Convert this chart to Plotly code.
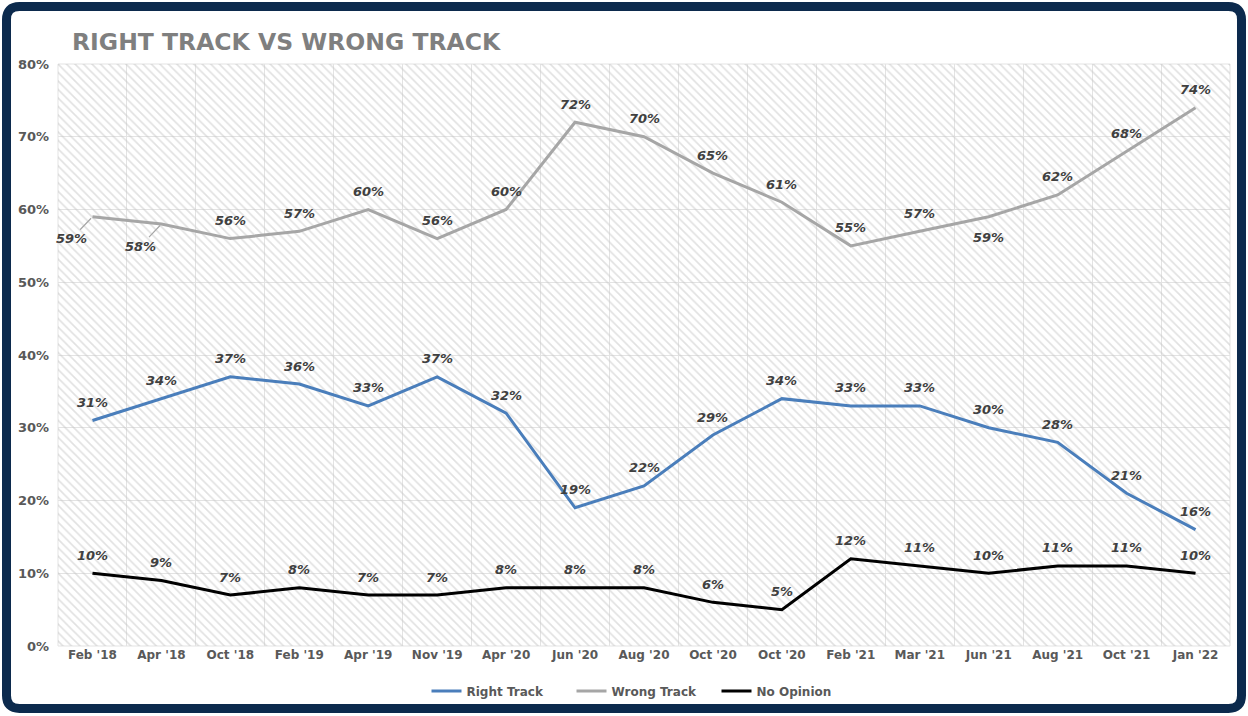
import plotly.graph_objects as go

MONTHS = ["Feb '18", "Apr '18", "Oct '18", "Feb '19", "Apr '19", "Nov '19", "Apr '20",
          "Jun '20", "Aug '20", "Oct '20", "Oct '20", "Feb '21", "Mar '21", "Jun '21",
          "Aug '21", "Oct '21", "Jan '22"]
RIGHT_TRACK = [31, 34, 37, 36, 33, 37, 32, 19, 22, 29, 34, 33, 33, 30, 28, 21, 16]
WRONG_TRACK = [59, 58, 56, 57, 60, 56, 60, 72, 70, 65, 61, 55, 57, 59, 62, 68, 74]
NO_OPINION = [10, 9, 7, 8, 7, 7, 8, 8, 8, 6, 5, 12, 11, 10, 11, 11, 10]
Y_TICKS = [0, 10, 20, 30, 40, 50, 60, 70, 80]

BLUE = "#4a7ebb"
GRAY = "#a6a6a6"
BLACK = "#000000"
NAVY = "#0c2a4d"
LABEL = "#404040"
TICK = "#595959"
FONT = "DejaVu Sans"

W, H = 1248, 716
L, R, T, B = 58, 18, 64, 69
PW, PH = W - L - R, H - T - B

xs = list(range(len(MONTHS)))

fig = go.Figure()

# hatched plot background
fig.add_trace(go.Bar(
    x=xs, y=[max(Y_TICKS)] * len(xs), width=1,
    marker=dict(color="rgba(0,0,0,0)", line=dict(width=0),
                pattern=dict(shape="\\", fgcolor="#c4c4c4", bgcolor="rgba(0,0,0,0)",
                             size=6, solidity=0.28)),
    hoverinfo="skip", showlegend=False))

series = [("Right Track", RIGHT_TRACK, BLUE),
          ("Wrong Track", WRONG_TRACK, GRAY),
          ("No Opinion", NO_OPINION, BLACK)]
for name, vals, col in series:
    fig.add_trace(go.Scatter(x=xs, y=vals, name=name, mode="lines",
                             line=dict(color=col, width=3)))

lab_font = dict(family=FONT, size=13, color=LABEL, style="italic", weight="bold")
annotations = []
for name, vals, col in series:
    for i, v in enumerate(vals):
        a = dict(x=i, y=v, text=f"{v}%", showarrow=False, font=lab_font, yshift=18)
        if name == "Wrong Track" and i in (0, 1):
            a.update(showarrow=True, arrowhead=0, arrowwidth=1.2, arrowcolor=GRAY,
                     ax=-21, ay=22, yshift=0, standoff=2)
        elif name == "Wrong Track" and i == 13:
            a.update(yshift=-21)
        annotations.append(a)


def px_x(p):
    return (p - L) / PW


def px_y(p):
    return (H - B - p) / PH


# rounded navy frame
x0, y0, x1, y1, r = 6.5, 6.5, W - 6.5, H - 6.5, 13
pts = [("M", x0 + r, y0), ("L", x1 - r, y0), ("Q", x1, y0, x1, y0 + r),
       ("L", x1, y1 - r), ("Q", x1, y1, x1 - r, y1), ("L", x0 + r, y1),
       ("Q", x0, y1, x0, y1 - r), ("L", x0, y0 + r), ("Q", x0, y0, x0 + r, y0)]
path = ""
for p in pts:
    cmd, coords = p[0], p[1:]
    conv = []
    for k in range(0, len(coords), 2):
        conv.append(f"{px_x(coords[k]):.5f},{px_y(coords[k + 1]):.5f}")
    path += cmd + " ".join(conv) + " "
path += "Z"

fig.update_layout(
    width=W, height=H,
    margin=dict(l=L, r=R, t=T, b=B),
    paper_bgcolor="white", plot_bgcolor="white",
    font=dict(family=FONT, color=TICK),
    title=dict(text="RIGHT TRACK VS WRONG TRACK", x=72 / W, xanchor="left",
               y=1 - 42 / H, yanchor="middle",
               font=dict(family=FONT, size=23.5, color="#7f7f7f", weight="bold")),
    xaxis=dict(range=[-0.5, len(xs) - 0.5], tickmode="array", tickvals=xs, ticktext=MONTHS,
               showgrid=False, zeroline=False, showline=False, ticks="",
               tickfont=dict(family=FONT, size=12, color=TICK, weight="bold"),
               minor=dict(tickmode="linear", tick0=-0.5, dtick=1, showgrid=True,
                          gridcolor="#e3e3e3", gridwidth=1)),
    yaxis=dict(range=[0, max(Y_TICKS)], tickmode="array", tickvals=Y_TICKS,
               ticktext=[f"{v}%" for v in Y_TICKS],
               showgrid=True, gridcolor="#e3e3e3", gridwidth=1, zeroline=False,
               ticks="", ticklabelstandoff=8,
               tickfont=dict(family=FONT, size=13, color=TICK, weight="bold")),
    legend=dict(orientation="h", x=0.5, xanchor="center", y=px_y(691), yanchor="middle",
                bgcolor="rgba(0,0,0,0)",
                font=dict(family=FONT, size=12, color=TICK, weight="bold"),
                itemwidth=30, tracegroupgap=0, entrywidth=100, entrywidthmode="pixels"),
    annotations=annotations,
    shapes=[dict(type="path", path=path, xref="paper", yref="paper",
                 line=dict(color=NAVY, width=9), fillcolor="rgba(0,0,0,0)", layer="above"),
            dict(type="rect", xref="paper", yref="paper", x0=0, x1=1, y0=0, y1=1,
                 line=dict(color="#e3e3e3", width=1), layer="below")],
    showlegend=True,
)

fig.write_html("out.html", config={"displayModeBar": False},
               post_script="document.body.style.margin='0';")
